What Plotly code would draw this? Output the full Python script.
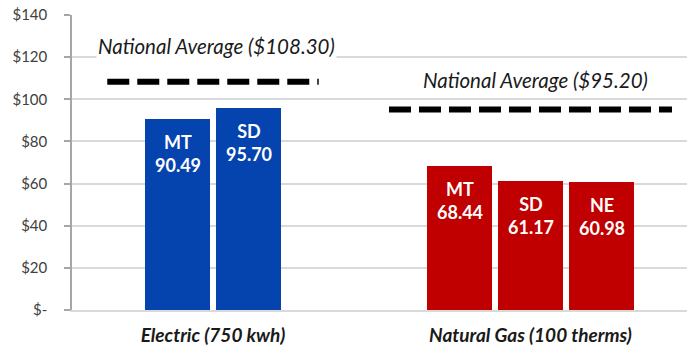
import plotly.graph_objects as go

# ---- data ----
categories = ["Electric (750 kwh)", "Natural Gas (100 therms)"]
states = [["MT", "SD"], ["MT", "SD", "NE"]]
values = [[90.49, 95.70], [68.44, 61.17, 60.98]]
national_avg = [108.30, 95.20]
avg_labels = ["National Average ($108.30)", "National Average ($95.20)"]
y_ticks = [0, 20, 40, 60, 80, 100, 120, 140]
y_ticktext = ["$-", "$20", "$40", "$60", "$80", "$100", "$120", "$140"]

# ---- style ----
bar_colors = ["#0543AF", "#C00000"]
pitch = 0.2236
bar_width = 0.2047
avg_half_width = [0.333, 0.4457]
avg_label_shift = [36, 29]
avg_label_xshift = [3, 5]
font = "Lato"

fig = go.Figure()

for g, (cat, sts, vals) in enumerate(zip(categories, states, values)):
    n = len(vals)
    xs = [g + (i - (n - 1) / 2) * pitch for i in range(n)]
    fig.add_trace(go.Bar(
        x=xs, y=vals, width=bar_width,
        marker=dict(color=bar_colors[g], line=dict(width=0)),
        showlegend=False, hoverinfo="skip",
    ))
    for x, s, v in zip(xs, sts, vals):
        fig.add_annotation(
            x=x, y=v, text=f"<b>{s}<br>{v:.2f}</b>", showarrow=False,
            yanchor="top", yshift=-10,
            font=dict(family=font, size=18, color="white"),
        )
    # national average dashed line
    hw = avg_half_width[g]
    fig.add_trace(go.Scatter(
        x=[g - hw, g + hw], y=[national_avg[g], national_avg[g]],
        mode="lines", line=dict(color="black", width=6, dash="22px,8px"),
        showlegend=False, hoverinfo="skip",
    ))
    fig.add_annotation(
        x=g, y=national_avg[g], text=f"<i>{avg_labels[g]}</i>", showarrow=False,
        yanchor="middle", yshift=avg_label_shift[g], xshift=avg_label_xshift[g],
        bgcolor="white",
        font=dict(family=font, size=20.5, color="#1a1a1a"),
    )

fig.update_layout(
    width=687, height=348,
    margin=dict(l=72, r=0, t=15, b=38, autoexpand=False),
    paper_bgcolor="white", plot_bgcolor="white",
    bargap=0,
    xaxis=dict(
        range=[-0.4441, 1.4929],
        tickvals=list(range(len(categories))),
        ticktext=[f"<b><i>{c}</i></b>" for c in categories],
        tickfont=dict(family=font, size=19, color="#1a1a1a"),
        showgrid=False, zeroline=False,
        showline=True, linecolor="#D9D9D9", linewidth=1.5,
        ticks="", ticklabelstandoff=7,
    ),
    yaxis=dict(
        range=[0, 140],
        tickvals=y_ticks, ticktext=y_ticktext,
        tickfont=dict(family=font, size=15, color="#404040"),
        showgrid=True, gridcolor="#D9D9D9", gridwidth=1.5,
        zeroline=False,
        showline=True, linecolor="#A6A6A6", linewidth=1.5,
        ticks="outside", ticklen=6, tickcolor="#A6A6A6", tickwidth=1.5,
        ticklabelstandoff=14, ticklabeloverflow="allow",
    ),
)

# remove the page's default 8px body margin so the figure sits at (0, 0)
fig.write_html(
    "out.html",
    config={"displayModeBar": False},
    post_script="document.body.style.margin='0';",
)
